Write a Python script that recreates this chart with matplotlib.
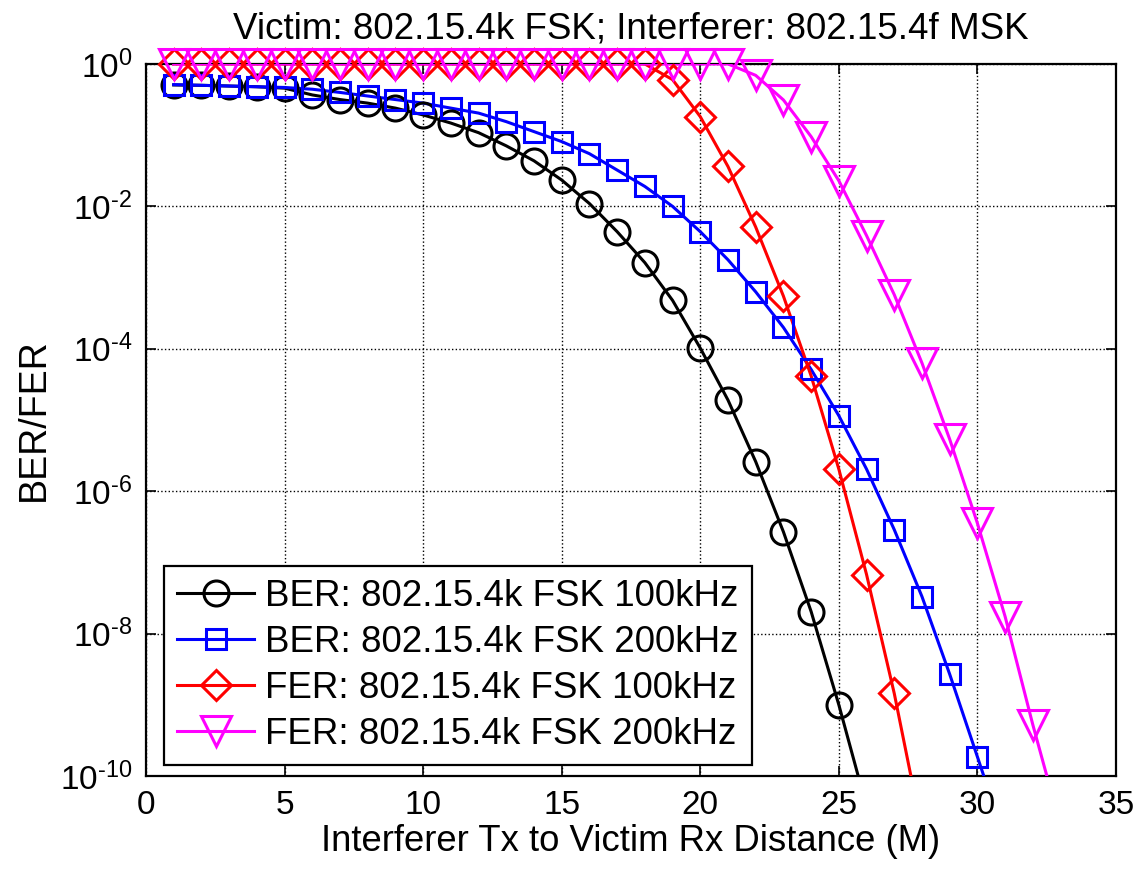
"""BER/FER vs interferer distance, 802.15.4k FSK victim"""
import numpy as np
import matplotlib
matplotlib.use("Agg")
import matplotlib.pyplot as plt
from matplotlib.lines import Line2D

plt.rcParams["font.family"] = ["Liberation Sans", "DejaVu Sans"]
plt.rcParams["mathtext.fontset"] = "custom"
plt.rcParams["mathtext.rm"] = "Liberation Sans"
plt.rcParams["mathtext.it"] = "Liberation Sans"
plt.rcParams["axes.unicode_minus"] = False

# distances (m) and log10 of error rates
# the last value of each series sits below 1e-10, only the line reaches it
dist_ber100 = np.arange(1, 27)
log_ber100 = [-0.295, -0.30, -0.31, -0.32, -0.34, -0.435, -0.50, -0.55, -0.62,
              -0.716, -0.83, -0.965, -1.15, -1.36, -1.63, -1.96, -2.355, -2.79,
              -3.32, -3.99, -4.72, -5.585, -6.57, -7.69, -9.0, -10.43]

dist_ber200 = np.arange(1, 32)
log_ber200 = [-0.29, -0.30, -0.31, -0.32, -0.33, -0.355, -0.40, -0.45, -0.50,
              -0.55, -0.62, -0.69, -0.81, -0.95, -1.09, -1.26, -1.49, -1.72,
              -2.00, -2.355, -2.75, -3.20, -3.70, -4.29, -4.94, -5.69, -6.54,
              -7.48, -8.57, -9.73, -10.9]

dist_fer100 = np.arange(1, 29)
log_fer100 = [0.0] * 18 + [-0.22, -0.74, -1.44, -2.29, -3.26, -4.38, -5.69,
                           -7.17, -8.84, -10.77]

dist_fer200 = np.arange(1, 34)
log_fer200 = [0.0] * 21 + [-0.16, -0.505, -1.02, -1.64, -2.41, -3.24, -4.2,
                           -5.27, -6.45, -7.76, -9.28, -10.7]

ytick_exps = [0, -2, -4, -6, -8, -10]

labels = ["BER: 802.15.4k FSK 100kHz", "BER: 802.15.4k FSK 200kHz",
          "FER: 802.15.4k FSK 100kHz", "FER: 802.15.4k FSK 200kHz"]
colors = ["black", "blue", "red", "magenta"]
markers = ["o", "s", "D", "v"]
msizes = [18, 15, 15, 22]

series = [(dist_ber100, log_ber100), (dist_ber200, log_ber200),
          (dist_fer100, log_fer100), (dist_fer200, log_fer200)]

fig = plt.figure(figsize=(11.37, 8.69), dpi=100)
ax = fig.add_axes([0.1284, 0.107, 0.8531, 0.8194])

handles = []
for (d, lg), lab, c, m, ms in zip(series, labels, colors, markers, msizes):
    y = 10.0 ** np.array(lg)
    ax.plot(d, y, color=c, lw=2.2, zorder=3)
    keep = y >= 1e-10
    # MATLAB does not clip markers at the axes edge
    ax.plot(d[keep], y[keep], ls="none", marker=m, ms=ms, mfc="none",
            mec=c, mew=2.2, clip_on=False, zorder=4)
    handles.append(Line2D([], [], color=c, lw=2.2, marker=m, ms=ms,
                          mfc="none", mec=c, mew=2.2, label=lab))

ax.set_yscale("log")
ax.set_xlim(0, 35)
ax.set_ylim(1e-10, 1e0)
ax.set_xticks(np.arange(0, 36, 5))
ax.set_yticks([10.0 ** e for e in ytick_exps])
# plain hyphen in the exponent, like MATLAB
ax.set_yticklabels([r"$\mathdefault{10^{%s}}$" % str(e).replace("-", "\u2010")
                    for e in ytick_exps])
ax.minorticks_off()
ax.tick_params(direction="in", length=7, width=1.2, labelsize=24,
               top=True, right=True, pad=10)
ax.grid(True, color="black", ls=":", lw=1.0)
for sp in ax.spines.values():
    sp.set_linewidth(1.6)

ax.set_xlabel("Interferer Tx to Victim Rx Distance (M)", fontsize=26.3, labelpad=2)
ax.set_ylabel("BER/FER", fontsize=27, labelpad=6)
ax.set_title("Victim: 802.15.4k FSK; Interferer: 802.15.4f MSK", fontsize=26.5,
             family=["Liberation Sans Narrow", "Liberation Sans"], pad=18)

leg = ax.legend(handles=handles, loc="lower left",
                bbox_to_anchor=(0.0186, 0.016), borderaxespad=0,
                fontsize=26.5, frameon=True, fancybox=False, framealpha=1,
                edgecolor="black", handlelength=2.1, handletextpad=0.3,
                labelspacing=0.3, borderpad=0.35)
leg.get_frame().set_linewidth(1.6)
leg.set_zorder(5)

fig.savefig("out.png", dpi=100)
